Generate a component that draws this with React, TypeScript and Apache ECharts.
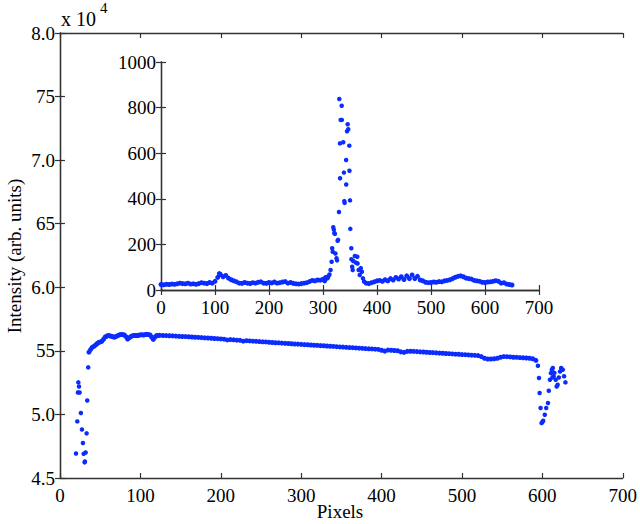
import React, { useEffect, useRef } from "react";
import * as echarts from "echarts";

// Main plot: [pixel, intensity (x 10^4)]
const mainStart: [number, number][] = [
  [19.9, 4.693], [21.5, 4.945], [22.3, 5.173], [22.8, 5.252], [23.6, 5.22], [24.4, 5.173],
  [26.0, 5.011], [27.3, 4.882], [28.5, 4.775], [29.4, 4.69], [30.6, 4.623], [31.0, 4.63],
  [31.9, 4.70], [33.1, 4.851], [33.9, 5.11], [35.1, 5.37],
];
const mainBody: [number, number][] = [
  [36, 5.49], [38, 5.51], [40, 5.527], [42, 5.535], [44, 5.545], [46, 5.556], [48, 5.566], [50, 5.57],
  [52, 5.575], [54, 5.59], [56, 5.608], [58, 5.615], [60, 5.621], [62, 5.618], [64, 5.615], [66, 5.61],
  [68, 5.608], [70, 5.614], [72, 5.62], [74, 5.626], [76, 5.629], [78, 5.628], [80, 5.625], [82, 5.612],
  [84, 5.593], [86, 5.602], [88, 5.612], [90, 5.618], [92, 5.621], [94, 5.621], [96, 5.62], [98, 5.623],
  [100, 5.626], [102, 5.626], [104, 5.625], [106, 5.628], [108, 5.63], [110, 5.628], [112, 5.625],
  [114, 5.608], [116, 5.59], [118, 5.608], [120, 5.62], [122, 5.621],
  [124, 5.622], [128, 5.621], [132, 5.620], [136, 5.619], [140, 5.618], [144, 5.616], [148, 5.614],
  [152, 5.613], [156, 5.612], [160, 5.611], [164, 5.609], [168, 5.607], [172, 5.606], [176, 5.604],
  [180, 5.602], [184, 5.601], [188, 5.599], [192, 5.597], [196, 5.596], [200, 5.594], [204, 5.592],
  [208, 5.586], [212, 5.589], [216, 5.587], [220, 5.584], [224, 5.583], [228, 5.576], [232, 5.580],
  [236, 5.578], [240, 5.576], [244, 5.575], [248, 5.573], [252, 5.571], [256, 5.570], [260, 5.568],
  [264, 5.566], [268, 5.564], [272, 5.563], [276, 5.561], [280, 5.559], [284, 5.558], [288, 5.556],
  [292, 5.554], [296, 5.553], [300, 5.551], [304, 5.549], [308, 5.548], [312, 5.546], [316, 5.544],
  [320, 5.543], [324, 5.541], [328, 5.540], [332, 5.538], [336, 5.536], [340, 5.535], [344, 5.533],
  [348, 5.531], [352, 5.530], [356, 5.528], [360, 5.526], [364, 5.525], [368, 5.523], [372, 5.521],
  [376, 5.520], [380, 5.518], [384, 5.516], [388, 5.515], [392, 5.513], [396, 5.511], [400, 5.505],
  [404, 5.498], [408, 5.506], [412, 5.505], [416, 5.503], [420, 5.501], [424, 5.492], [428, 5.488],
  [432, 5.496], [436, 5.497], [440, 5.496], [444, 5.494], [448, 5.492], [452, 5.491], [456, 5.489],
  [460, 5.487], [464, 5.486], [468, 5.484], [472, 5.482], [476, 5.481], [480, 5.479], [484, 5.478],
  [488, 5.476], [492, 5.474], [496, 5.473], [500, 5.471], [504, 5.470], [508, 5.468], [512, 5.466],
  [516, 5.465], [520, 5.463], [524, 5.455], [528, 5.442], [532, 5.436], [536, 5.436], [540, 5.438],
  [544, 5.442], [548, 5.450], [552, 5.455], [556, 5.454], [560, 5.452], [564, 5.450], [568, 5.449],
  [572, 5.447], [576, 5.446], [580, 5.444], [584, 5.442], [588, 5.438], [592, 5.425],
];
const mainEnd: [number, number][] = [
  [594.5, 5.383], [595.8, 5.286], [596.6, 5.168], [597.8, 5.05], [599.0, 4.932], [600.0, 4.94],
  [601.0, 4.95], [603.0, 4.998], [604.8, 5.05], [607.0, 5.09], [608.0, 5.186], [609.4, 5.273],
  [610.6, 5.325], [611.8, 5.351], [612.5, 5.29], [613.0, 5.365], [614.0, 5.30], [615.0, 5.327],
  [616.6, 5.273], [617.8, 5.22], [619.0, 5.234], [620.5, 5.29], [622.0, 5.338], [623.4, 5.365],
  [625.4, 5.351], [627.0, 5.30], [628.7, 5.252],
];

// Inset: [pixel, intensity]
const insetBase1: [number, number][] = [
  [0, 24], [5, 23], [10, 25], [15, 24], [20, 26], [25, 25], [30, 27], [35, 30], [40, 28], [45, 27],
  [50, 30], [55, 26], [60, 27], [65, 25], [70, 28], [75, 32], [80, 30], [85, 28], [90, 33], [95, 30],
  [100, 38], [105, 55], [108, 72], [110, 68], [115, 58], [120, 64], [125, 52], [130, 45], [135, 40],
  [140, 36], [145, 30], [150, 29], [155, 33], [160, 30], [165, 28], [170, 32], [175, 30], [180, 34],
  [185, 36], [190, 30], [195, 29], [200, 33], [205, 31], [210, 35], [215, 30], [220, 32], [225, 35],
  [230, 37], [235, 30], [240, 33], [245, 29], [250, 27], [255, 26], [260, 28], [265, 30], [270, 32],
  [275, 37], [280, 42], [285, 40], [290, 44], [295, 43], [300, 47], [303, 40], [305, 55], [308, 52],
];
const insetPeak: [number, number][] = [
  [310, 60], [312, 68], [314, 88], [316, 124], [317, 183], [318, 168], [319, 275], [320, 265],
  [321, 250], [322, 246], [323, 160], [325, 139], [326, 130], [327, 216], [328, 220], [329.6, 342],
  [330.2, 838], [331.4, 643], [331.6, 490], [332.7, 746], [334.6, 808], [334.9, 746], [337.5, 648],
  [338.7, 515], [339.5, 390], [340, 382], [342.8, 570], [343, 463], [344.5, 696], [345.7, 727],
  [346.8, 705], [348.7, 633], [349, 523], [350, 393], [350.6, 268], [352.4, 183], [352.6, 135],
  [354, 102], [355, 88], [356, 127], [359, 149], [361, 120], [363.5, 146], [364, 116], [366, 88],
  [368, 66], [370, 96], [372, 80], [374, 51], [376, 37],
];
const insetBase2: [number, number][] = [
  [380, 30], [385, 28], [390, 32], [395, 36], [400, 40], [405, 42], [410, 38], [415, 45], [420, 40],
  [425, 50], [430, 44], [435, 55], [440, 48], [445, 58], [450, 46], [455, 62], [460, 50], [465, 66],
  [470, 50], [475, 60], [480, 44], [485, 40], [490, 34], [495, 32], [500, 33], [505, 35], [510, 34],
  [515, 37], [520, 36], [525, 40], [530, 42], [535, 45], [540, 50], [545, 56], [550, 60], [555, 62],
  [560, 58], [565, 52], [570, 50], [575, 48], [580, 42], [585, 40], [590, 38], [595, 34], [600, 33],
  [605, 35], [610, 36], [615, 38], [620, 41], [625, 38], [630, 30], [635, 32], [640, 26], [645, 24],
  [650, 22],
];

const mainYTickValues = [4.5, 5.0, 5.5, 6.0, 6.5, 7.0, 7.5, 8.0];
const mainYTickLabels = ["4.5", "5.0", "55", "6.0", "65", "7.0", "75", "8.0"];

const FONT = "Liberation Serif";
const BLUE = "#0a2cff";
const AXIS = "#333333";

export default function App() {
  const ref = useRef<HTMLDivElement>(null);
  useEffect(() => {
    if (!ref.current) return;
    const chart = echarts.init(ref.current, undefined, { renderer: "svg" });

    const line = { show: true, lineStyle: { color: AXIS, width: 1.3 } };
    const tick = { show: true, inside: true, length: 5, lineStyle: { color: AXIS, width: 1.2 } };
    const lbl = { fontFamily: FONT, fontSize: 19, color: "#000" };

    const xBase = (gridIndex: number, position: "top" | "bottom", showLabel: boolean) => ({
      type: "value",
      gridIndex,
      position,
      min: 0,
      max: 700,
      interval: 100,
      axisLine: line,
      axisTick: tick,
      splitLine: { show: false },
      axisLabel: showLabel ? { ...lbl, margin: 8, formatter: (v: number) => String(v) } : { show: false },
    });

    const mainLabel = (v: number) => {
      const i = mainYTickValues.findIndex((t) => Math.abs(t - v) < 1e-6);
      return i >= 0 ? mainYTickLabels[i] : "";
    };

    const dot = { color: BLUE, opacity: 1 };
    const txt = (text: string, size: number, extra: Record<string, unknown> = {}) => ({
      text, fontFamily: FONT, fontSize: size, fill: "#000", ...extra,
    });

    chart.setOption({
      animation: false,
      textStyle: { fontFamily: FONT },
      grid: [
        { left: 60, top: 33, width: 564, height: 445 },
        { left: 161, top: 62, width: 378, height: 228, show: true, backgroundColor: "#fff", borderWidth: 0, z: 5 },
      ],
      xAxis: [
        xBase(0, "bottom", true),
        xBase(0, "top", false),
        { ...xBase(1, "bottom", true), z: 6 },
        { ...xBase(1, "top", false), z: 6 },
      ],
      yAxis: [
        {
          type: "value", gridIndex: 0, position: "left", min: 4.5, max: 8, interval: 0.5,
          axisLine: line, axisTick: tick, splitLine: { show: false },
          axisLabel: { ...lbl, margin: 5, formatter: mainLabel },
        },
        {
          type: "value", gridIndex: 0, position: "right", min: 4.5, max: 8, interval: 0.5,
          axisLine: line, axisTick: tick, splitLine: { show: false }, axisLabel: { show: false },
        },
        {
          type: "value", gridIndex: 1, position: "left", min: 0, max: 1000, interval: 200, z: 6,
          axisLine: line, axisTick: tick, splitLine: { show: false },
          axisLabel: { ...lbl, margin: 5, formatter: (v: number) => String(v) },
        },
        {
          type: "value", gridIndex: 1, position: "right", min: 0, max: 1000, interval: 200, z: 6,
          axisLine: line, axisTick: tick, splitLine: { show: false }, axisLabel: { show: false },
        },
      ],
      series: [
        { type: "scatter", xAxisIndex: 0, yAxisIndex: 0, data: mainStart, symbolSize: 4.5, itemStyle: dot },
        { type: "scatter", xAxisIndex: 0, yAxisIndex: 0, data: mainBody, symbolSize: 5, itemStyle: dot },
        { type: "scatter", xAxisIndex: 0, yAxisIndex: 0, data: mainEnd, symbolSize: 4.5, itemStyle: dot },
        { type: "scatter", xAxisIndex: 2, yAxisIndex: 2, data: insetBase1, symbolSize: 5, itemStyle: dot, z: 7 },
        { type: "scatter", xAxisIndex: 2, yAxisIndex: 2, data: insetPeak, symbolSize: 4.5, itemStyle: dot, z: 7 },
        { type: "scatter", xAxisIndex: 2, yAxisIndex: 2, data: insetBase2, symbolSize: 5, itemStyle: dot, z: 7 },
      ],
      graphic: [
        { type: "text", x: 61, y: 19, style: txt("x 10", 20, { textVerticalAlign: "middle" }) },
        { type: "text", x: 100, y: 8, style: txt("4", 15, { textVerticalAlign: "middle" }) },
        { type: "text", x: 340, y: 511, style: txt("Pixels", 19, { textAlign: "center", textVerticalAlign: "middle" }) },
        {
          type: "text", x: 14, y: 256, rotation: Math.PI / 2,
          style: txt("Intensity (arb. units)", 19, { textAlign: "center", textVerticalAlign: "middle" }),
        },
      ],
    });
    return () => chart.dispose();
  }, []);
  return <div ref={ref} style={{ position: "fixed", left: 0, top: 0, width: 640, height: 524, background: "#fff" }} />;
}
